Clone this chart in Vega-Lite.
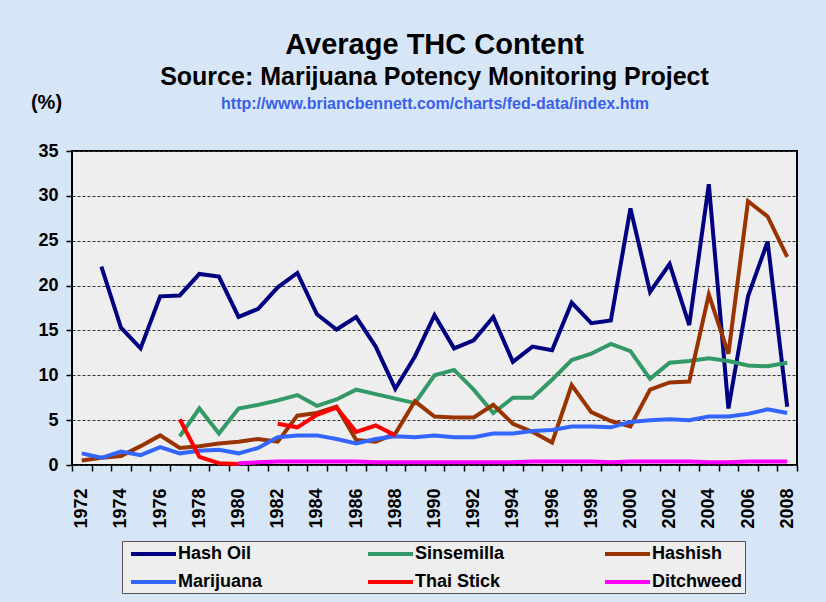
{
  "$schema": "https://vega.github.io/schema/vega-lite/v6.json",
  "width": 725,
  "height": 314,
  "autosize": {"type": "none"},
  "padding": {"left": 72, "top": 151, "right": 29, "bottom": 137},
  "background": "#d7e6f6",
  "title": {
    "text": "Average THC Content",
    "subtitle": "Source: Marijuana Potency Monitoring Project",
    "font": "Liberation Sans", "fontSize": 29, "fontWeight": "bold", "color": "#000000",
    "subtitleFont": "Liberation Sans", "subtitleFontSize": 25, "subtitleFontWeight": "bold", "subtitleColor": "#000000",
    "subtitlePadding": 5, "anchor": "middle", "offset": 2
  },
  "config": {"view": {"fill": "#eeeeee", "stroke": "#000000", "strokeWidth": 2}},
  "datasets": {
    "thc": [
      {"year":1973,"series":"Hash Oil","thc":22.1},{"year":1974,"series":"Hash Oil","thc":15.3},{"year":1975,"series":"Hash Oil","thc":13.0},{"year":1976,"series":"Hash Oil","thc":18.8},{"year":1977,"series":"Hash Oil","thc":18.9},{"year":1978,"series":"Hash Oil","thc":21.3},{"year":1979,"series":"Hash Oil","thc":21.0},{"year":1980,"series":"Hash Oil","thc":16.5},{"year":1981,"series":"Hash Oil","thc":17.4},{"year":1982,"series":"Hash Oil","thc":19.8},{"year":1983,"series":"Hash Oil","thc":21.4},{"year":1984,"series":"Hash Oil","thc":16.8},{"year":1985,"series":"Hash Oil","thc":15.1},{"year":1986,"series":"Hash Oil","thc":16.5},{"year":1987,"series":"Hash Oil","thc":13.2},{"year":1988,"series":"Hash Oil","thc":8.5},{"year":1989,"series":"Hash Oil","thc":12.1},{"year":1990,"series":"Hash Oil","thc":16.7},{"year":1991,"series":"Hash Oil","thc":13.0},{"year":1992,"series":"Hash Oil","thc":13.9},{"year":1993,"series":"Hash Oil","thc":16.5},{"year":1994,"series":"Hash Oil","thc":11.5},{"year":1995,"series":"Hash Oil","thc":13.2},{"year":1996,"series":"Hash Oil","thc":12.8},{"year":1997,"series":"Hash Oil","thc":18.1},{"year":1998,"series":"Hash Oil","thc":15.8},{"year":1999,"series":"Hash Oil","thc":16.1},{"year":2000,"series":"Hash Oil","thc":28.6},{"year":2001,"series":"Hash Oil","thc":19.3},{"year":2002,"series":"Hash Oil","thc":22.4},{"year":2003,"series":"Hash Oil","thc":15.6},{"year":2004,"series":"Hash Oil","thc":31.3},{"year":2005,"series":"Hash Oil","thc":6.3},{"year":2006,"series":"Hash Oil","thc":18.8},{"year":2007,"series":"Hash Oil","thc":24.9},{"year":2008,"series":"Hash Oil","thc":6.5},
      {"year":1977,"series":"Sinsemilla","thc":3.2},{"year":1978,"series":"Sinsemilla","thc":6.3},{"year":1979,"series":"Sinsemilla","thc":3.5},{"year":1980,"series":"Sinsemilla","thc":6.3},{"year":1981,"series":"Sinsemilla","thc":6.7},{"year":1982,"series":"Sinsemilla","thc":7.2},{"year":1983,"series":"Sinsemilla","thc":7.8},{"year":1984,"series":"Sinsemilla","thc":6.6},{"year":1985,"series":"Sinsemilla","thc":7.3},{"year":1986,"series":"Sinsemilla","thc":8.4},{"year":1987,"series":"Sinsemilla","thc":7.9},{"year":1988,"series":"Sinsemilla","thc":7.4},{"year":1989,"series":"Sinsemilla","thc":6.9},{"year":1990,"series":"Sinsemilla","thc":10.0},{"year":1991,"series":"Sinsemilla","thc":10.6},{"year":1992,"series":"Sinsemilla","thc":8.4},{"year":1993,"series":"Sinsemilla","thc":5.8},{"year":1994,"series":"Sinsemilla","thc":7.5},{"year":1995,"series":"Sinsemilla","thc":7.5},{"year":1996,"series":"Sinsemilla","thc":9.5},{"year":1997,"series":"Sinsemilla","thc":11.7},{"year":1998,"series":"Sinsemilla","thc":12.4},{"year":1999,"series":"Sinsemilla","thc":13.5},{"year":2000,"series":"Sinsemilla","thc":12.7},{"year":2001,"series":"Sinsemilla","thc":9.6},{"year":2002,"series":"Sinsemilla","thc":11.4},{"year":2003,"series":"Sinsemilla","thc":11.6},{"year":2004,"series":"Sinsemilla","thc":11.9},{"year":2005,"series":"Sinsemilla","thc":11.6},{"year":2006,"series":"Sinsemilla","thc":11.1},{"year":2007,"series":"Sinsemilla","thc":11.0},{"year":2008,"series":"Sinsemilla","thc":11.4},
      {"year":1972,"series":"Hashish","thc":0.5},{"year":1973,"series":"Hashish","thc":0.8},{"year":1974,"series":"Hashish","thc":1.0},{"year":1975,"series":"Hashish","thc":2.1},{"year":1976,"series":"Hashish","thc":3.3},{"year":1977,"series":"Hashish","thc":1.9},{"year":1978,"series":"Hashish","thc":2.1},{"year":1979,"series":"Hashish","thc":2.4},{"year":1980,"series":"Hashish","thc":2.6},{"year":1981,"series":"Hashish","thc":2.9},{"year":1982,"series":"Hashish","thc":2.6},{"year":1983,"series":"Hashish","thc":5.5},{"year":1984,"series":"Hashish","thc":5.8},{"year":1985,"series":"Hashish","thc":6.5},{"year":1986,"series":"Hashish","thc":2.8},{"year":1987,"series":"Hashish","thc":2.6},{"year":1988,"series":"Hashish","thc":3.5},{"year":1989,"series":"Hashish","thc":7.1},{"year":1990,"series":"Hashish","thc":5.4},{"year":1991,"series":"Hashish","thc":5.3},{"year":1992,"series":"Hashish","thc":5.3},{"year":1993,"series":"Hashish","thc":6.7},{"year":1994,"series":"Hashish","thc":4.6},{"year":1995,"series":"Hashish","thc":3.7},{"year":1996,"series":"Hashish","thc":2.5},{"year":1997,"series":"Hashish","thc":8.9},{"year":1998,"series":"Hashish","thc":5.9},{"year":1999,"series":"Hashish","thc":4.9},{"year":2000,"series":"Hashish","thc":4.3},{"year":2001,"series":"Hashish","thc":8.4},{"year":2002,"series":"Hashish","thc":9.2},{"year":2003,"series":"Hashish","thc":9.3},{"year":2004,"series":"Hashish","thc":19.0},{"year":2005,"series":"Hashish","thc":12.4},{"year":2006,"series":"Hashish","thc":29.4},{"year":2007,"series":"Hashish","thc":27.7},{"year":2008,"series":"Hashish","thc":23.2},
      {"year":1972,"series":"Marijuana","thc":1.3},{"year":1973,"series":"Marijuana","thc":0.8},{"year":1974,"series":"Marijuana","thc":1.5},{"year":1975,"series":"Marijuana","thc":1.1},{"year":1976,"series":"Marijuana","thc":2.0},{"year":1977,"series":"Marijuana","thc":1.3},{"year":1978,"series":"Marijuana","thc":1.6},{"year":1979,"series":"Marijuana","thc":1.7},{"year":1980,"series":"Marijuana","thc":1.3},{"year":1981,"series":"Marijuana","thc":1.9},{"year":1982,"series":"Marijuana","thc":3.1},{"year":1983,"series":"Marijuana","thc":3.3},{"year":1984,"series":"Marijuana","thc":3.3},{"year":1985,"series":"Marijuana","thc":2.9},{"year":1986,"series":"Marijuana","thc":2.4},{"year":1987,"series":"Marijuana","thc":2.9},{"year":1988,"series":"Marijuana","thc":3.2},{"year":1989,"series":"Marijuana","thc":3.1},{"year":1990,"series":"Marijuana","thc":3.3},{"year":1991,"series":"Marijuana","thc":3.1},{"year":1992,"series":"Marijuana","thc":3.1},{"year":1993,"series":"Marijuana","thc":3.5},{"year":1994,"series":"Marijuana","thc":3.5},{"year":1995,"series":"Marijuana","thc":3.8},{"year":1996,"series":"Marijuana","thc":3.9},{"year":1997,"series":"Marijuana","thc":4.3},{"year":1998,"series":"Marijuana","thc":4.3},{"year":1999,"series":"Marijuana","thc":4.2},{"year":2000,"series":"Marijuana","thc":4.8},{"year":2001,"series":"Marijuana","thc":5.0},{"year":2002,"series":"Marijuana","thc":5.1},{"year":2003,"series":"Marijuana","thc":5.0},{"year":2004,"series":"Marijuana","thc":5.4},{"year":2005,"series":"Marijuana","thc":5.4},{"year":2006,"series":"Marijuana","thc":5.7},{"year":2007,"series":"Marijuana","thc":6.2},{"year":2008,"series":"Marijuana","thc":5.8},
      {"year":1977,"series":"Thai Stick","thc":5.1},{"year":1978,"series":"Thai Stick","thc":0.9},{"year":1979,"series":"Thai Stick","thc":0.2},{"year":1980,"series":"Thai Stick","thc":0.1},{"year":1981,"series":"Thai Stick","thc":null},{"year":1982,"series":"Thai Stick","thc":4.6},{"year":1983,"series":"Thai Stick","thc":4.2},{"year":1984,"series":"Thai Stick","thc":5.6},{"year":1985,"series":"Thai Stick","thc":6.4},{"year":1986,"series":"Thai Stick","thc":3.7},{"year":1987,"series":"Thai Stick","thc":4.4},{"year":1988,"series":"Thai Stick","thc":3.3},
      {"year":1980,"series":"Ditchweed","thc":0.2},{"year":1981,"series":"Ditchweed","thc":0.3},{"year":1982,"series":"Ditchweed","thc":0.4},{"year":1983,"series":"Ditchweed","thc":0.4},{"year":1984,"series":"Ditchweed","thc":0.4},{"year":1985,"series":"Ditchweed","thc":0.4},{"year":1986,"series":"Ditchweed","thc":0.4},{"year":1987,"series":"Ditchweed","thc":0.3},{"year":1988,"series":"Ditchweed","thc":0.3},{"year":1989,"series":"Ditchweed","thc":0.3},{"year":1990,"series":"Ditchweed","thc":0.3},{"year":1991,"series":"Ditchweed","thc":0.3},{"year":1992,"series":"Ditchweed","thc":0.3},{"year":1993,"series":"Ditchweed","thc":0.3},{"year":1994,"series":"Ditchweed","thc":0.3},{"year":1995,"series":"Ditchweed","thc":0.4},{"year":1996,"series":"Ditchweed","thc":0.4},{"year":1997,"series":"Ditchweed","thc":0.4},{"year":1998,"series":"Ditchweed","thc":0.4},{"year":1999,"series":"Ditchweed","thc":0.3},{"year":2000,"series":"Ditchweed","thc":0.4},{"year":2001,"series":"Ditchweed","thc":0.4},{"year":2002,"series":"Ditchweed","thc":0.4},{"year":2003,"series":"Ditchweed","thc":0.4},{"year":2004,"series":"Ditchweed","thc":0.3},{"year":2005,"series":"Ditchweed","thc":0.3},{"year":2006,"series":"Ditchweed","thc":0.4},{"year":2007,"series":"Ditchweed","thc":0.4},{"year":2008,"series":"Ditchweed","thc":0.4}
    ]
  },
  "data": {"name": "thc"},
  "layer": [
    {
      "mark": {"type": "line", "strokeWidth": 4, "invalid": "break-paths-filter-domains"},
      "encoding": {
        "x": {
          "field": "year", "type": "ordinal",
          "scale": {"type": "band", "paddingInner": 0, "paddingOuter": 0},
          "bandPosition": 0.5,
          "axis": {
            "title": null, "labelAngle": -90, "labelAlign": "right", "labelBaseline": "middle",
            "labelExpr": "datum.value % 2 == 0 ? datum.label : ''",
            "labelFont": "Liberation Sans", "labelFontSize": 18, "labelFontWeight": "bold", "labelColor": "#000000",
            "labelPadding": 17, "tickBand": "extent", "tickSize": 6, "tickColor": "#000000", "tickWidth": 1.5,
            "domain": false, "grid": false, "labelOverlap": false
          }
        },
        "y": {
          "field": "thc", "type": "quantitative",
          "scale": {"domain": [0, 35], "nice": false, "zero": true},
          "axis": {
            "values": [0, 5, 10, 15, 20, 25, 30, 35],
            "title": "(%)", "titleAngle": 0, "titleX": -26, "titleY": -49, "titleAlign": "center", "titleBaseline": "middle",
            "titleFont": "Liberation Sans", "titleFontSize": 20, "titleFontWeight": "bold", "titleColor": "#000000",
            "labelFont": "Liberation Sans", "labelFontSize": 18, "labelFontWeight": "bold", "labelColor": "#000000",
            "labelPadding": 8, "tickSize": 6, "tickColor": "#000000", "tickWidth": 1.5, "domain": false,
            "grid": true, "gridColor": "#333333", "gridDash": [3, 2], "gridWidth": 1, "gridOpacity": 1
          }
        },
        "color": {
          "field": "series", "type": "nominal",
          "scale": {
            "domain": ["Hash Oil", "Sinsemilla", "Hashish", "Marijuana", "Thai Stick", "Ditchweed"],
            "range": ["#000080", "#339966", "#993300", "#3366ff", "#ff0000", "#ff00ff"]
          },
          "legend": {
            "orient": "none", "legendX": 50, "legendY": 390, "direction": "horizontal", "columns": 3,
            "title": null, "symbolType": "M-1,0H4", "symbolStrokeWidth": 4, "symbolSize": 324,
            "labelFont": "Liberation Sans", "labelFontSize": 18, "labelFontWeight": "bold", "labelColor": "#000000",
            "labelOffset": 27, "columnPadding": 91, "rowPadding": 8, "gridAlign": "all", "padding": 2,
            "symbolOffset": 5, "fillColor": "#eeeeee", "strokeColor": "#555555", "labelLimit": 300
          }
        }
      }
    },
    {
      "mark": {"type": "line", "opacity": 0, "strokeWidth": 0},
      "encoding": {
        "x": {
          "field": "year", "type": "ordinal",
          "axis": {
            "orient": "top", "labels": false, "ticks": false, "domain": false, "grid": false,
            "title": "http://www.briancbennett.com/charts/fed-data/index.htm",
            "titleFont": "Liberation Sans", "titleFontSize": 16, "titleFontWeight": "bold", "titleColor": "#3a5fe8",
            "titlePadding": 40, "minExtent": 0
          }
        }
      }
    }
  ],
  "resolve": {"axis": {"x": "independent"}}
}
